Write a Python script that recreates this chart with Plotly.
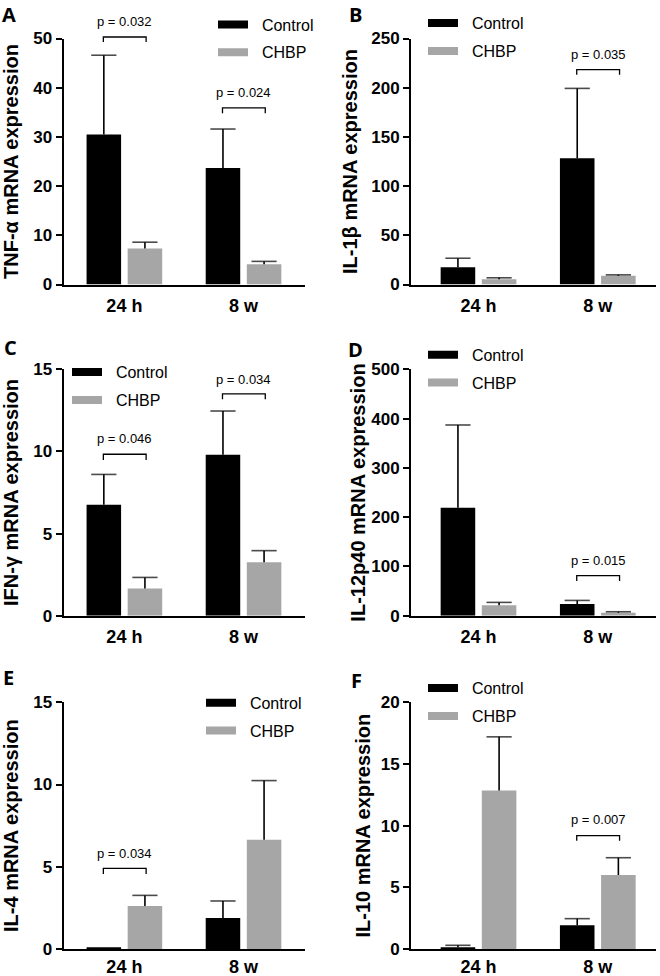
import plotly.graph_objects as go

# ---------------- data ----------------
groups = ["24 h", "8 w"]

panel_letters = ["A", "B", "C", "D", "E", "F"]
y_titles = ["TNF-α mRNA expression", "IL-1β mRNA expression", "IFN-γ mRNA expression",
            "IL-12p40 mRNA expression", "IL-4 mRNA expression", "IL-10 mRNA expression"]
y_max = [50, 250, 15, 500, 15, 20]
y_dtick = [10, 50, 5, 100, 5, 5]

control_vals = [
    [30.5, 23.7],    # TNF-a
    [17.5, 128.2],   # IL-1b
    [6.75, 9.8],     # IFN-g
    [219.0, 23.7],   # IL-12p40
    [0.05, 1.89],    # IL-4
    [0.14, 1.92],    # IL-10
]
control_err = [
    [16.1, 7.9],
    [9.2, 71.1],
    [1.85, 2.66],
    [168.0, 7.3],
    [0.0, 1.03],
    [0.16, 0.54],
]
chbp_vals = [
    [7.3, 4.1],
    [5.4, 8.8],
    [1.66, 3.25],
    [21.0, 6.0],
    [2.61, 6.65],
    [12.84, 6.0],
]
chbp_err = [
    [1.3, 0.6],
    [1.4, 1.0],
    [0.67, 0.71],
    [6.0, 2.0],
    [0.65, 3.59],
    [4.36, 1.4],
]

# significance brackets: panel index, group index, bracket top, leg bottom, label y, label
sig_panel = [0, 0, 1, 2, 2, 3, 4, 5]
sig_group = [0, 1, 1, 0, 1, 1, 0, 1]
sig_top = [50.3, 35.9, 218.3, 9.83, 13.5, 81.2, 4.9, 9.19]
sig_leg = [49.3, 34.8, 213.2, 9.48, 13.18, 70.4, 4.56, 8.78]
sig_text_y = [53.5, 39.0, 234.0, 10.8, 14.4, 111.6, 5.82, 10.46]
sig_labels = ["p = 0.032", "p = 0.024", "p = 0.035", "p = 0.046", "p = 0.034",
              "p = 0.015", "p = 0.034", "p = 0.007"]

series_names = ["Control", "CHBP"]
series_colors = ["#000000", "#a6a6a6"]

# ---------------- layout geometry ----------------
W, H = 660, 976
BARGAP, GROUPGAP = 0.31, 0.16
col_x = [(63.5, 305.0), (411.0, 656.0)]
row_y = [(38.5, 284.5), (369.3, 615.7), (702.3, 949.0)]
row_label_standoff = [4, 4, 0]
col_xrange = [[-0.511, 1.516], [-0.566, 1.488]]
title_standoff = [11, 8, 10, 0, 10, 5]
swatch_pos = [(220, 23.5), (430, 22.2), (74, 371.2), (430, 353.8), (208, 701.8), (430, 687.2)]
letter_pos = [(9, 14.5), (355, 14), (10, 347), (355, 349), (8, 677), (356, 680)]

FONT = "Liberation Sans, Arial, sans-serif"
half_slot = (1 - BARGAP) / 4  # distance from group centre to bar centre

fig = go.Figure()
layout = dict(
    template="none",
    width=W, height=H,
    margin=dict(l=0, r=0, t=0, b=0, pad=0),
    paper_bgcolor="white", plot_bgcolor="white",
    barmode="group", bargap=BARGAP, bargroupgap=GROUPGAP,
    font=dict(family=FONT, color="black"),
    shapes=[], annotations=[],
)

for i in range(6):
    r, c = divmod(i, 2)
    sfx = "" if i == 0 else str(i + 1)
    xa, ya = "x" + sfx, "y" + sfx
    x0, x1 = col_x[c]
    yt, yb = row_y[r]
    layout["xaxis" + sfx] = dict(
        domain=[x0 / W, x1 / W], anchor=ya, range=col_xrange[c],
        tickmode="array", tickvals=list(range(len(groups))), ticktext=groups,
        showline=True, linewidth=2, linecolor="black", automargin=False,
        ticks="", showgrid=False, zeroline=False, ticklabelstandoff=row_label_standoff[r],
        tickfont=dict(family=FONT, size=18, weight="bold", color="black"),
        fixedrange=True,
    )
    layout["yaxis" + sfx] = dict(
        domain=[1 - yb / H, 1 - yt / H], anchor=xa, range=[0, y_max[i]],
        dtick=y_dtick[i], tick0=0, showline=True, linewidth=2, linecolor="black",
        ticks="outside", ticklen=6, tickwidth=2, tickcolor="black", automargin=False,
        showgrid=False, zeroline=False,
        tickfont=dict(family=FONT, size=17, weight="bold", color="black"),
        title=dict(text=y_titles[i], standoff=title_standoff[i],
                   font=dict(family=FONT, size=20, weight="bold", color="black")),
        fixedrange=True,
    )
    leg_name = "legend" if i == 0 else "legend" + str(i + 1)
    sx, sy = swatch_pos[i]
    layout[leg_name] = dict(
        x=(sx - 7) / W, y=1 - (sy - 16) / H, xanchor="left", yanchor="top",
        bgcolor="rgba(0,0,0,0)", borderwidth=0,
        font=dict(family=FONT, size=16, color="black"),
        traceorder="grouped", tracegroupgap=4, itemwidth=30,
    )

    vals = [control_vals[i], chbp_vals[i]]
    errs = [control_err[i], chbp_err[i]]
    xs = list(range(len(groups)))
    for s in range(2):
        fig.add_trace(go.Bar(
            x=xs, y=vals[s], name=series_names[s],
            marker=dict(color=series_colors[s], line=dict(width=0)),
            xaxis=xa, yaxis=ya, showlegend=False,
        ))
    # upper (one-sided) error bars: vertical stem + cap
    for s in range(2):
        sign = -1 if s == 0 else 1
        ex = [g + sign * half_slot for g in xs]
        ey = [v + e for v, e in zip(vals[s], errs[s])]
        fig.add_trace(go.Scatter(
            x=ex, y=ey, mode="markers", showlegend=False, hoverinfo="skip",
            marker=dict(symbol="line-ew", size=[18 if e > 0 else 0 for e in errs[s]],
                        color="black", line=dict(color="black", width=1.6)),
            error_y=dict(type="data", array=[0] * len(ex), arrayminus=errs[s],
                         symmetric=False, width=0, thickness=1.6, color="black"),
            xaxis=xa, yaxis=ya, cliponaxis=False,
        ))
    for s in range(2):
        fig.add_trace(go.Scatter(
            x=[None], y=[None], mode="lines", name="\u00a0\u00a0" + series_names[s],
            line=dict(color=series_colors[s], width=8),
            xaxis=xa, yaxis=ya, legend=leg_name, showlegend=True,
            legendgroup=f"{panel_letters[i]}{s}",
        ))

    lx, ly = letter_pos[i]
    layout["annotations"].append(dict(
        text=panel_letters[i], x=lx / W, y=1 - ly / H, xref="paper", yref="paper",
        xanchor="center", yanchor="middle", showarrow=False,
        font=dict(family="Open Sans, sans-serif", size=20, weight="bold", color="black"),
    ))

# significance brackets
for k in range(len(sig_panel)):
    i = sig_panel[k]
    sfx = "" if i == 0 else str(i + 1)
    g = sig_group[k]
    xl, xr = g - half_slot - 0.004, g + half_slot + 0.01
    top = sig_top[k] / y_max[i]
    leg = sig_leg[k] / y_max[i]
    layout["shapes"].append(dict(
        type="path", xref="x" + sfx, yref="y" + sfx + " domain",
        path=f"M {xl} {leg} L {xl} {top} L {xr} {top} L {xr} {leg}",
        line=dict(color="black", width=1.3),
    ))
    layout["annotations"].append(dict(
        text=sig_labels[k], x=g + 0.003, y=sig_text_y[k] / y_max[i],
        xref="x" + sfx, yref="y" + sfx + " domain", xanchor="center", yanchor="middle",
        showarrow=False, font=dict(family=FONT, size=13, color="black"),
    ))

fig.update_layout(**layout)
fig.write_html(
    "out.html",
    config={"displayModeBar": False},
    post_script="document.body.style.margin='0';document.body.style.padding='0';",
)
